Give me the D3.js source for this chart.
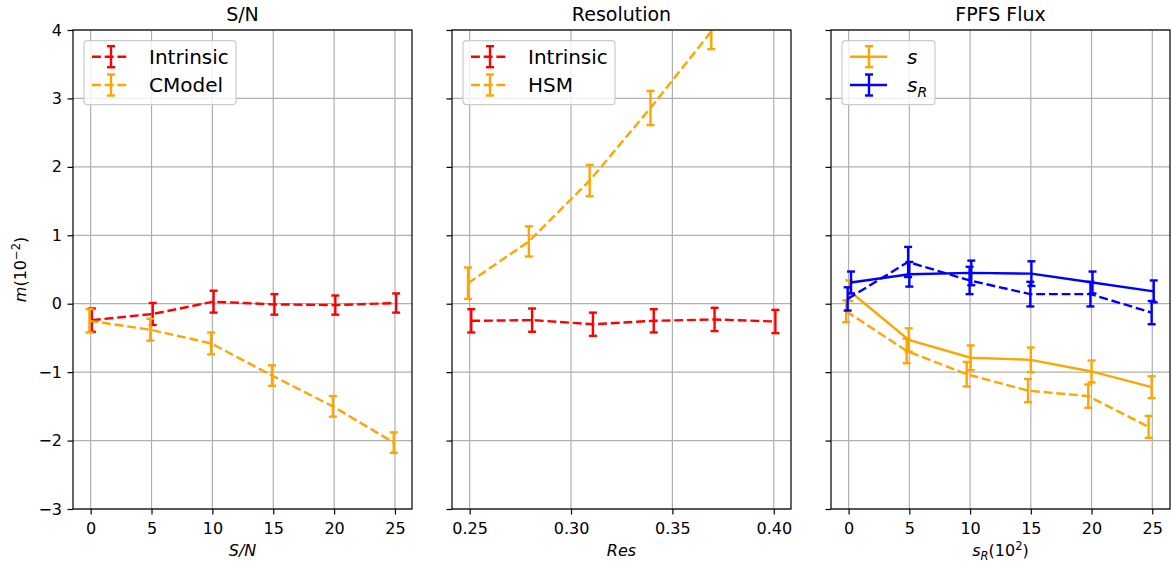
<!DOCTYPE html>
<html>
<head>
<meta charset="utf-8">
<script src="https://cdn.jsdelivr.net/npm/d3@7"></script>
<style>
  body { margin: 0; background: #fff; }
  svg { font-family: "DejaVu Sans", sans-serif; }
</style>
</head>
<body>
<div id="chart"></div>
<script>
// ---- data (m in units of 1e-2) ----
var snrX = [0, 5, 10, 15, 20, 25];
var snrIntrinsicX = [0.1, 5.1, 10.1, 15.1, 20.1, 25.1];
var snrIntrinsicM = [-0.24, -0.15, 0.03, -0.01, -0.02, 0.01];
var snrIntrinsicErr = [0.17, 0.16, 0.16, 0.15, 0.14, 0.14];
var snrCModelX = [-0.1, 4.9, 9.9, 14.9, 19.9, 24.9];
var snrCModelM = [-0.25, -0.38, -0.58, -1.05, -1.50, -2.03];
var snrCModelErr = [0.17, 0.16, 0.16, 0.15, 0.15, 0.15];

var resTicks = [0.25, 0.30, 0.35, 0.40];
var resIntrinsicX = [0.2508, 0.2808, 0.3108, 0.3408, 0.3708, 0.4008];
var resIntrinsicM = [-0.25, -0.24, -0.30, -0.25, -0.23, -0.26];
var resIntrinsicErr = [0.17, 0.17, 0.17, 0.17, 0.17, 0.17];
var resHsmX = [0.2492, 0.2792, 0.3092, 0.3392, 0.3692];
var resHsmM = [0.30, 0.91, 1.80, 2.86, 3.98];
var resHsmErr = [0.23, 0.22, 0.23, 0.25, 0.26];

var fluxX = [0, 5, 10, 15, 20, 25];
var fluxSX = [0.05, 4.95, 10.05, 15.0, 20.0, 24.95];
var fluxSM = [0.19, -0.53, -0.79, -0.82, -0.99, -1.22];
var fluxSErr = [0.15, 0.17, 0.18, 0.18, 0.16, 0.16];
var fluxSDashX = [-0.2, 4.78, 9.72, 14.77, 19.73, 24.7];
var fluxSDashM = [-0.11, -0.69, -1.03, -1.27, -1.35, -1.80];
var fluxSDashErr = [0.16, 0.18, 0.18, 0.17, 0.17, 0.16];
var fluxSRX = [0.2, 5.0, 10.1, 15.05, 20.08, 25.12];
var fluxSRM = [0.31, 0.43, 0.45, 0.44, 0.31, 0.18];
var fluxSRErr = [0.16, 0.18, 0.18, 0.18, 0.16, 0.16];
var fluxSRDashX = [-0.08, 4.9, 9.96, 14.96, 19.91, 24.95];
var fluxSRDashM = [0.07, 0.61, 0.34, 0.14, 0.14, -0.13];
var fluxSRDashErr = [0.17, 0.22, 0.20, 0.18, 0.18, 0.17];

var yTicks = [-3, -2, -1, 0, 1, 2, 3, 4];

// ---- layout ----
var svgWidth = 1171, svgHeight = 567;
var margin = { top: 30, left: 73 };
var panelW = 339, panelH = 479, gap = 40;
var lw = 2.4;
var dash = "8.9,3.8";

var svg = d3.select("#chart").append("svg")
    .attr("width", svgWidth)
    .attr("height", svgHeight);

var yScale = d3.scaleLinear().domain([-3, 4]).range([panelH, 0]);

function zip(xs, ys, es) {
    return xs.map(function (x, i) { return { x: x, y: ys[i], e: es[i] }; });
}

var panels = [
    {
        title: "S/N", xlabel: "snr", domain: [-1.45, 26.4], ticks: snrX, fmt: d3.format("d"),
        legend: [["Intrinsic", "red", true], ["CModel", "orange", true]], legendW: 152,
        series: [
            { pts: zip(snrIntrinsicX, snrIntrinsicM, snrIntrinsicErr), color: "red", dashed: true },
            { pts: zip(snrCModelX, snrCModelM, snrCModelErr), color: "orange", dashed: true }
        ]
    },
    {
        title: "Resolution", xlabel: "res", domain: [0.2413, 0.4085], ticks: resTicks, fmt: d3.format(".2f"),
        legend: [["Intrinsic", "red", true], ["HSM", "orange", true]], legendW: 152,
        series: [
            { pts: zip(resIntrinsicX, resIntrinsicM, resIntrinsicErr), color: "red", dashed: true },
            { pts: zip(resHsmX, resHsmM, resHsmErr), color: "orange", dashed: true }
        ]
    },
    {
        title: "FPFS Flux", xlabel: "flux", domain: [-1.45, 26.46], ticks: fluxX, fmt: d3.format("d"),
        legend: [["s", "orange", false], ["sR", "blue", false]], legendW: 93,
        series: [
            { pts: zip(fluxSX, fluxSM, fluxSErr), color: "orange", dashed: false },
            { pts: zip(fluxSDashX, fluxSDashM, fluxSDashErr), color: "orange", dashed: true },
            { pts: zip(fluxSRX, fluxSRM, fluxSRErr), color: "blue", dashed: false },
            { pts: zip(fluxSRDashX, fluxSRDashM, fluxSRDashErr), color: "blue", dashed: true }
        ]
    }
];

panels.forEach(function (p, i) {
    var left = margin.left + i * (panelW + gap);
    var g = svg.append("g").attr("transform", `translate(${left}, ${margin.top})`);
    var x = d3.scaleLinear().domain(p.domain).range([0, panelW]);

    g.append("clipPath").attr("id", "clip" + i)
        .append("rect").attr("width", panelW).attr("height", panelH);

    // grid
    g.selectAll(".gx").data(p.ticks).enter().append("line")
        .attr("x1", d => x(d)).attr("x2", d => x(d))
        .attr("y1", 0).attr("y2", panelH)
        .attr("stroke", "#b0b0b0").attr("stroke-width", 1.2);
    g.selectAll(".gy").data(yTicks).enter().append("line")
        .attr("x1", 0).attr("x2", panelW)
        .attr("y1", d => yScale(d)).attr("y2", d => yScale(d))
        .attr("stroke", "#b0b0b0").attr("stroke-width", 1.2);

    // axes
    var xAxis = d3.axisBottom(x).tickValues(p.ticks).tickFormat(p.fmt).tickSize(5.5).tickPadding(8);
    var yAxis = d3.axisLeft(yScale).tickValues(yTicks).tickFormat(d3.format("d"))
        .tickSize(5.5).tickPadding(5.5);
    if (i > 0) yAxis.tickFormat("");
    var ax = g.append("g").attr("transform", `translate(0, ${panelH})`).call(xAxis);
    var ay = g.append("g").call(yAxis);
    [ax, ay].forEach(function (a) {
        a.select(".domain").remove();
        a.selectAll("line").attr("stroke", "#000").attr("stroke-width", 1.2);
        a.selectAll("text").attr("font-size", 16).attr("fill", "#000")
            .attr("font-family", "DejaVu Sans");
    });

    // data
    var plot = g.append("g").attr("clip-path", `url(#clip${i})`);
    var line = d3.line().x(d => x(d.x)).y(d => yScale(d.y));
    p.series.forEach(function (s) {
        plot.append("path").datum(s.pts)
            .attr("d", line)
            .attr("fill", "none")
            .attr("stroke", s.color)
            .attr("stroke-width", lw)
            .attr("stroke-dasharray", s.dashed ? dash : null);
        var eb = plot.selectAll(null).data(s.pts).enter().append("g")
            .attr("stroke", s.color).attr("stroke-width", lw);
        eb.append("line")
            .attr("x1", d => x(d.x)).attr("x2", d => x(d.x))
            .attr("y1", d => yScale(d.y - d.e)).attr("y2", d => yScale(d.y + d.e));
        eb.append("line")
            .attr("x1", d => x(d.x) - 4).attr("x2", d => x(d.x) + 4)
            .attr("y1", d => yScale(d.y - d.e)).attr("y2", d => yScale(d.y - d.e));
        eb.append("line")
            .attr("x1", d => x(d.x) - 4).attr("x2", d => x(d.x) + 4)
            .attr("y1", d => yScale(d.y + d.e)).attr("y2", d => yScale(d.y + d.e));
    });

    // frame
    g.append("rect").attr("width", panelW).attr("height", panelH)
        .attr("fill", "none").attr("stroke", "#000").attr("stroke-width", 1.2);

    // title
    g.append("text")
        .attr("x", panelW / 2).attr("y", -9.5)
        .attr("text-anchor", "middle")
        .attr("font-size", 19)
        .text(p.title);

    // x label
    var xl = g.append("text")
        .attr("x", panelW / 2).attr("y", panelH + 47)
        .attr("text-anchor", "middle")
        .attr("font-size", 16);
    if (p.xlabel === "snr") {
        xl.attr("font-style", "italic").text("S/N");
    } else if (p.xlabel === "res") {
        xl.attr("font-style", "italic").text("Res");
    } else {
        xl.append("tspan").attr("font-style", "italic").text("s");
        xl.append("tspan").attr("font-style", "italic").attr("font-size", 11.5).attr("dy", 3.5).text("R");
        xl.append("tspan").attr("dy", -3.5).text("(10");
        xl.append("tspan").attr("font-size", 11.5).attr("dy", -6).text("2");
        xl.append("tspan").attr("dy", 6).text(")");
    }

    // legend
    var lg = g.append("g").attr("transform", "translate(11, 10.7)");
    lg.append("rect")
        .attr("width", p.legendW).attr("height", 64)
        .attr("rx", 3.5)
        .attr("fill", "#fff").attr("fill-opacity", 0.8)
        .attr("stroke", "#cccccc").attr("stroke-width", 1.2);
    p.legend.forEach(function (item, k) {
        var cy = 16 + k * 28.3;
        var row = lg.append("g").attr("stroke", item[1]).attr("stroke-width", lw);
        row.append("line").attr("x1", 8).attr("x2", 45).attr("y1", cy).attr("y2", cy)
            .attr("stroke-dasharray", item[2] ? dash : null);
        row.append("line").attr("x1", 27).attr("x2", 27).attr("y1", cy - 10.5).attr("y2", cy + 10.5);
        row.append("line").attr("x1", 23).attr("x2", 31).attr("y1", cy - 10.5).attr("y2", cy - 10.5);
        row.append("line").attr("x1", 23).attr("x2", 31).attr("y1", cy + 10.5).attr("y2", cy + 10.5);
        var t = lg.append("text").attr("x", 65).attr("y", cy + 7.2).attr("font-size", 20);
        if (item[0] === "s") {
            t.attr("font-style", "italic").text("s");
        } else if (item[0] === "sR") {
            t.append("tspan").attr("font-style", "italic").text("s");
            t.append("tspan").attr("font-style", "italic").attr("font-size", 14).attr("dy", 4.5).text("R");
        } else {
            t.text(item[0]);
        }
    });
});

// shared y label
var yl = svg.append("text")
    .attr("transform", `translate(26, ${margin.top + panelH / 2}) rotate(-90)`)
    .attr("text-anchor", "middle")
    .attr("font-size", 16);
yl.append("tspan").attr("font-style", "italic").text("m");
yl.append("tspan").text("(10");
yl.append("tspan").attr("font-size", 11.5).attr("dy", -6).text("\u22122");
yl.append("tspan").attr("dy", 6).text(")");
</script>
</body>
</html>
